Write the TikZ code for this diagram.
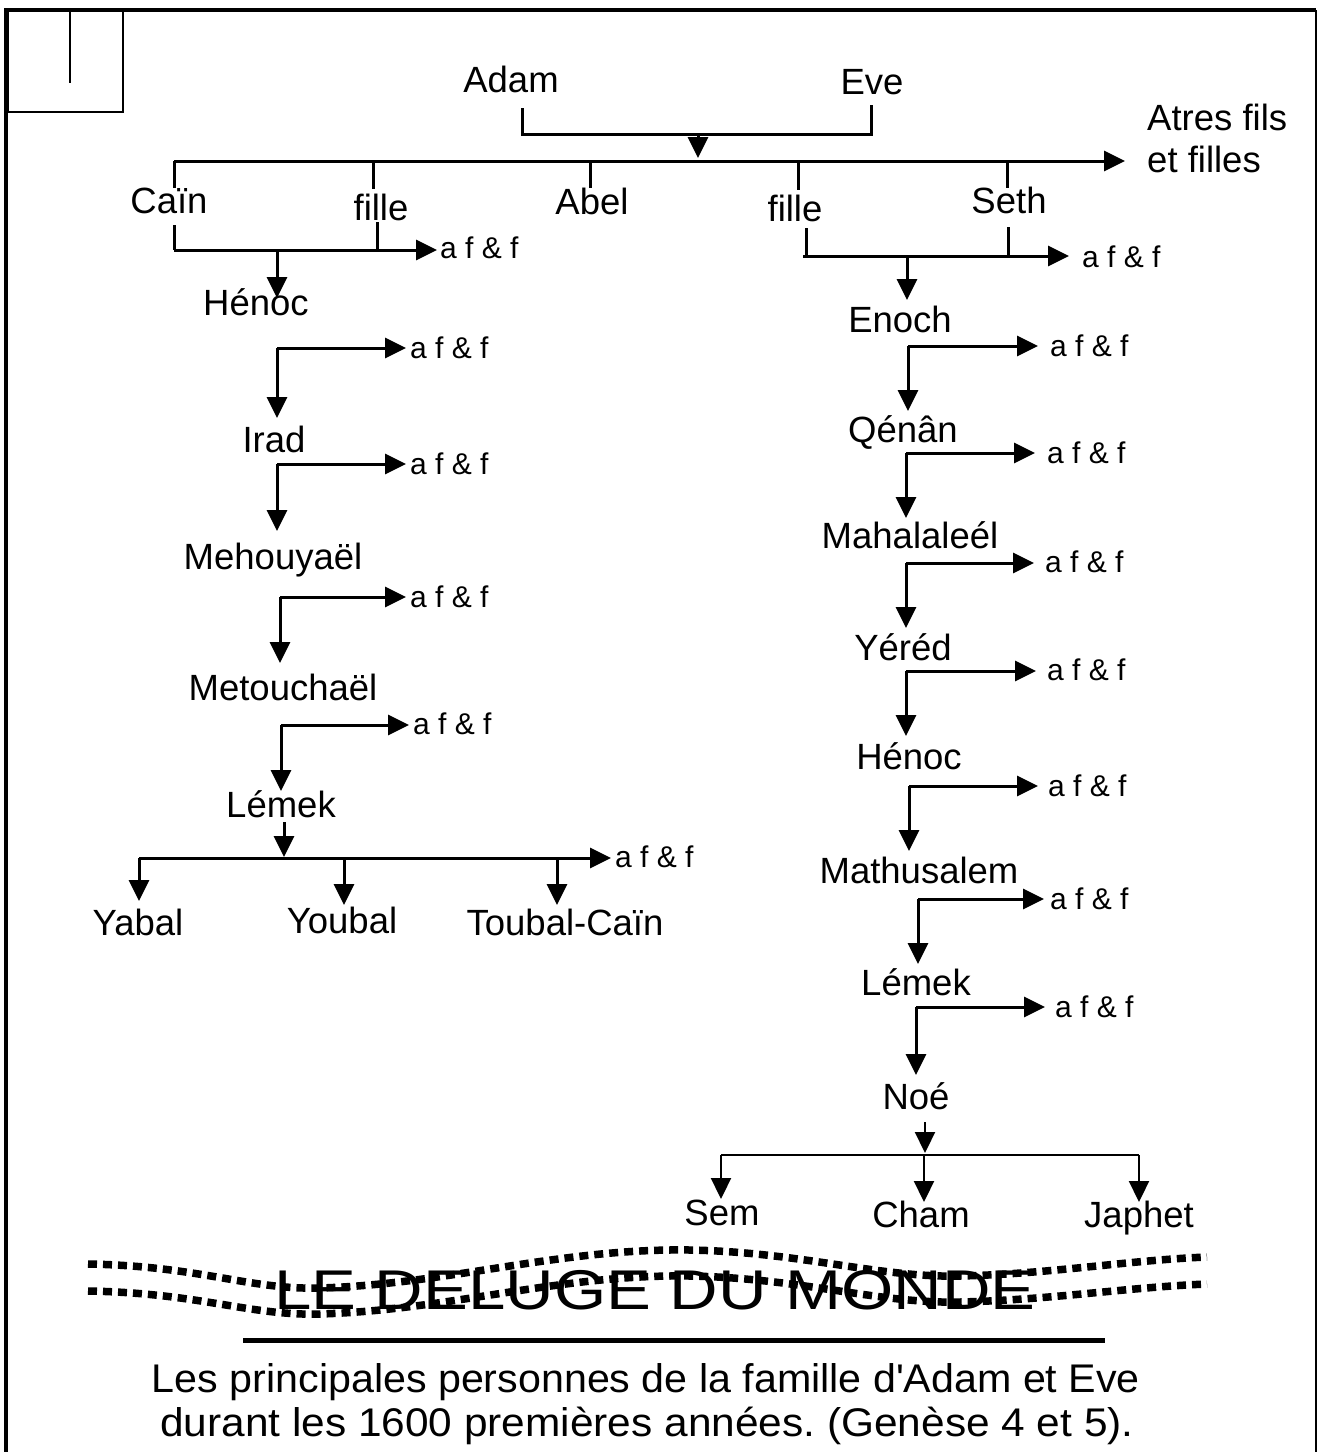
\documentclass[tikz,border=0pt]{standalone}
\usepackage{fontspec}
\setmainfont{Liberation Sans}
\usetikzlibrary{arrows.meta}
\begin{document}
\frenchspacing
\begin{tikzpicture}[x=1pt,y=-1pt,
  pname/.style={font=\fontsize{36.5}{40}\selectfont,inner sep=0pt,anchor=base},
  afnode/.style={font=\fontsize{30}{32}\selectfont,inner sep=0pt,anchor=base west},
  ln/.style={line width=3pt},
  thinln/.style={line width=2.2pt},
  arr/.style={line width=3pt,-{Triangle[length=21pt,width=20pt]}},
  thinarr/.style={line width=2.2pt,-{Triangle[length=21pt,width=20pt]}},
  wave/.style={line width=7.5pt,dash pattern=on 9pt off 6pt},
]
\useasboundingbox (0,0) rectangle (1321,1452);
% frame
\draw[line width=4pt] (6,1452) -- (6,10) -- (1316,10);
\draw[line width=2.5pt] (1316,10) -- (1316,1452);
\draw[line width=1.5pt] (8,10) rectangle (123,112);
\draw[line width=1.5pt] (70,10) -- (70,83);

% ---------- top generation ----------
\node[pname] (adam) at (511,92) {Adam};
\node[pname] (eve) at (872,94) {Eve};
\node[pname,anchor=base west] (atres1) at (1147,130) {Atres fils};
\node[pname,anchor=base west] (atres2) at (1147,172) {et filles};
\node[pname] (cain) at (169,213) {Caïn};
\node[pname] (filleL) at (381,220) {fille};
\node[pname] (abel) at (592,214) {Abel};
\node[pname] (filleR) at (795,221) {fille};
\node[pname] (seth) at (1009,213) {Seth};

\coordinate (ae) at (698,134);
\draw[ln] (522,108) -- (522,134) -- (871,134) -- (871,105);
\draw[arr] (ae) -- (698,158);
\coordinate (mainL) at (174,161);
\draw[arr] (mainL) -- (1125,161);
\draw[ln] (174,161) -- (174,188);
\draw[ln] (373,161) -- (373,189);
\draw[ln] (590,161) -- (590,188);
\draw[ln] (798,161) -- (798,190);
\draw[ln] (1007,161) -- (1007,188);

% ---------- Cain line ----------
\node[afnode] (af1) at (440,258) {a f \& f};
\node[pname] (henocL) at (256,315) {Hénoc};
\draw[ln] (174,225) -- (174,250);
\draw[ln] (377,222) -- (377,250);
\coordinate (jc) at (174,250);
\draw[arr] (jc) -- (437,250);
\draw[arr] (277,250) -- (277,298);

\node[afnode] (af2) at (410,358) {a f \& f};
\node[pname] (irad) at (274,452) {Irad};
\coordinate (j2) at (277,348);
\draw[arr] (j2) -- (406,348);
\draw[arr] (j2) -- (277,418);

\node[afnode] (af3) at (410,474) {a f \& f};
\node[pname] (mehou) at (273,569) {Mehouyaël};
\coordinate (j3) at (277,464);
\draw[arr] (j3) -- (406,464);
\draw[arr] (j3) -- (277,531);

\node[afnode] (af4) at (410,607) {a f \& f};
\node[pname] (metou) at (283,700) {Metouchaël};
\coordinate (j4) at (280,597);
\draw[arr] (j4) -- (406,597);
\draw[arr] (j4) -- (280,663);

\node[afnode] (af5) at (413,734) {a f \& f};
\node[pname] (lemekL) at (281,817) {Lémek};
\coordinate (j5) at (281,725);
\draw[arr] (j5) -- (409,725);
\draw[arr] (j5) -- (281,791);

\node[afnode] (af6) at (615,867) {a f \& f};
\node[pname] (yabal) at (138,935) {Yabal};
\node[pname] (youbal) at (342,933) {Youbal};
\node[pname] (toubal) at (565,935) {Toubal-Caïn};
\coordinate (j6) at (139,858);
\draw[arr] (284,822) -- (284,857);
\draw[arr] (j6) -- (611,858);
\draw[arr] (139,858) -- (139,901);
\draw[arr] (344,858) -- (344,905);
\draw[arr] (557,858) -- (557,905);

% ---------- Seth line ----------
\node[afnode] (afR1) at (1082,267) {a f \& f};
\node[pname] (enoch) at (900,332) {Enoch};
\draw[ln] (806,228) -- (806,256);
\draw[ln] (1008,227) -- (1008,256);
\coordinate (js) at (803,256);
\draw[arr] (js) -- (1069,256);
\draw[arr] (907,256) -- (907,300);

\node[afnode] (afR2) at (1050,356) {a f \& f};
\node[pname] (qenan) at (903,442) {Qénân};
\coordinate (k2) at (908,346);
\draw[arr] (k2) -- (1038,346);
\draw[arr] (k2) -- (908,411);

\node[afnode] (afR3) at (1047,463) {a f \& f};
\node[pname] (mahal) at (910,548) {Mahalaleél};
\coordinate (k3) at (906,453);
\draw[arr] (k3) -- (1035,453);
\draw[arr] (k3) -- (906,518);

\node[afnode] (afR4) at (1045,572) {a f \& f};
\node[pname] (yered) at (903,660) {Yéréd};
\coordinate (k4) at (906,563);
\draw[arr] (k4) -- (1034,563);
\draw[arr] (k4) -- (906,628);

\node[afnode] (afR5) at (1047,680) {a f \& f};
\node[pname] (henocR) at (909,769) {Hénoc};
\coordinate (k5) at (906,671);
\draw[arr] (k5) -- (1036,671);
\draw[arr] (k5) -- (906,736);

\node[afnode] (afR6) at (1048,796) {a f \& f};
\node[pname] (mathu) at (919,883) {Mathusalem};
\coordinate (k6) at (909,786);
\draw[arr] (k6) -- (1038,786);
\draw[arr] (k6) -- (909,851);

\node[afnode] (afR7) at (1050,909) {a f \& f};
\node[pname] (lemekR) at (916,995) {Lémek};
\coordinate (k7) at (918,899);
\draw[arr] (k7) -- (1044,899);
\draw[arr] (k7) -- (918,964);

\node[afnode] (afR8) at (1055,1017) {a f \& f};
\node[pname] (noe) at (916,1109) {Noé};
\coordinate (k8) at (916,1007);
\draw[arr] (k8) -- (1045,1007);
\draw[arr] (k8) -- (916,1075);

\node[pname] (sem) at (722,1225) {Sem};
\node[pname] (cham) at (921,1227) {Cham};
\node[pname] (japhet) at (1139,1227) {Japhet};
\coordinate (kn) at (721,1155);
\draw[thinarr] (925,1122) -- (925,1153);
\draw[thinln] (kn) -- (1139,1155);
\draw[thinarr] (721,1155) -- (721,1199);
\draw[thinarr] (924,1155) -- (924,1202);
\draw[thinarr] (1139,1155) -- (1139,1202);

% ---------- flood ----------
\node[inner sep=0pt,anchor=base] (deluge) at (655,1309)
  {\scalebox{1.2}[1]{\fontsize{56}{60}\selectfont LE DELUGE DU MONDE}};
\draw[wave] (88,1264) .. controls (200,1266) and (250,1290) .. (320,1288)
  .. controls (450,1284) and (560,1248) .. (690,1250)
  .. controls (800,1252) and (880,1278) .. (960,1276)
  .. controls (1050,1274) and (1130,1260) .. (1207,1257);
\draw[wave] (88,1291) .. controls (200,1293) and (250,1316) .. (320,1314)
  .. controls (450,1310) and (560,1274) .. (690,1276)
  .. controls (800,1278) and (880,1304) .. (960,1302)
  .. controls (1050,1300) and (1130,1287) .. (1207,1284);

\draw[line width=5pt] (243,1340) -- (1105,1340);
\node[inner sep=0pt,anchor=base,font=\fontsize{40}{44}\selectfont] (cap1) at (646,1392)
  {\scalebox{1.03}[1]{Les principales personnes de la famille d\textquotesingle Adam et Eve}};
\node[inner sep=0pt,anchor=base,font=\fontsize{40}{44}\selectfont] (cap2) at (647,1436)
  {\scalebox{1.06}[1]{durant les 1600 premières années. (Genèse 4 et 5).}};
\end{tikzpicture}
\end{document}
